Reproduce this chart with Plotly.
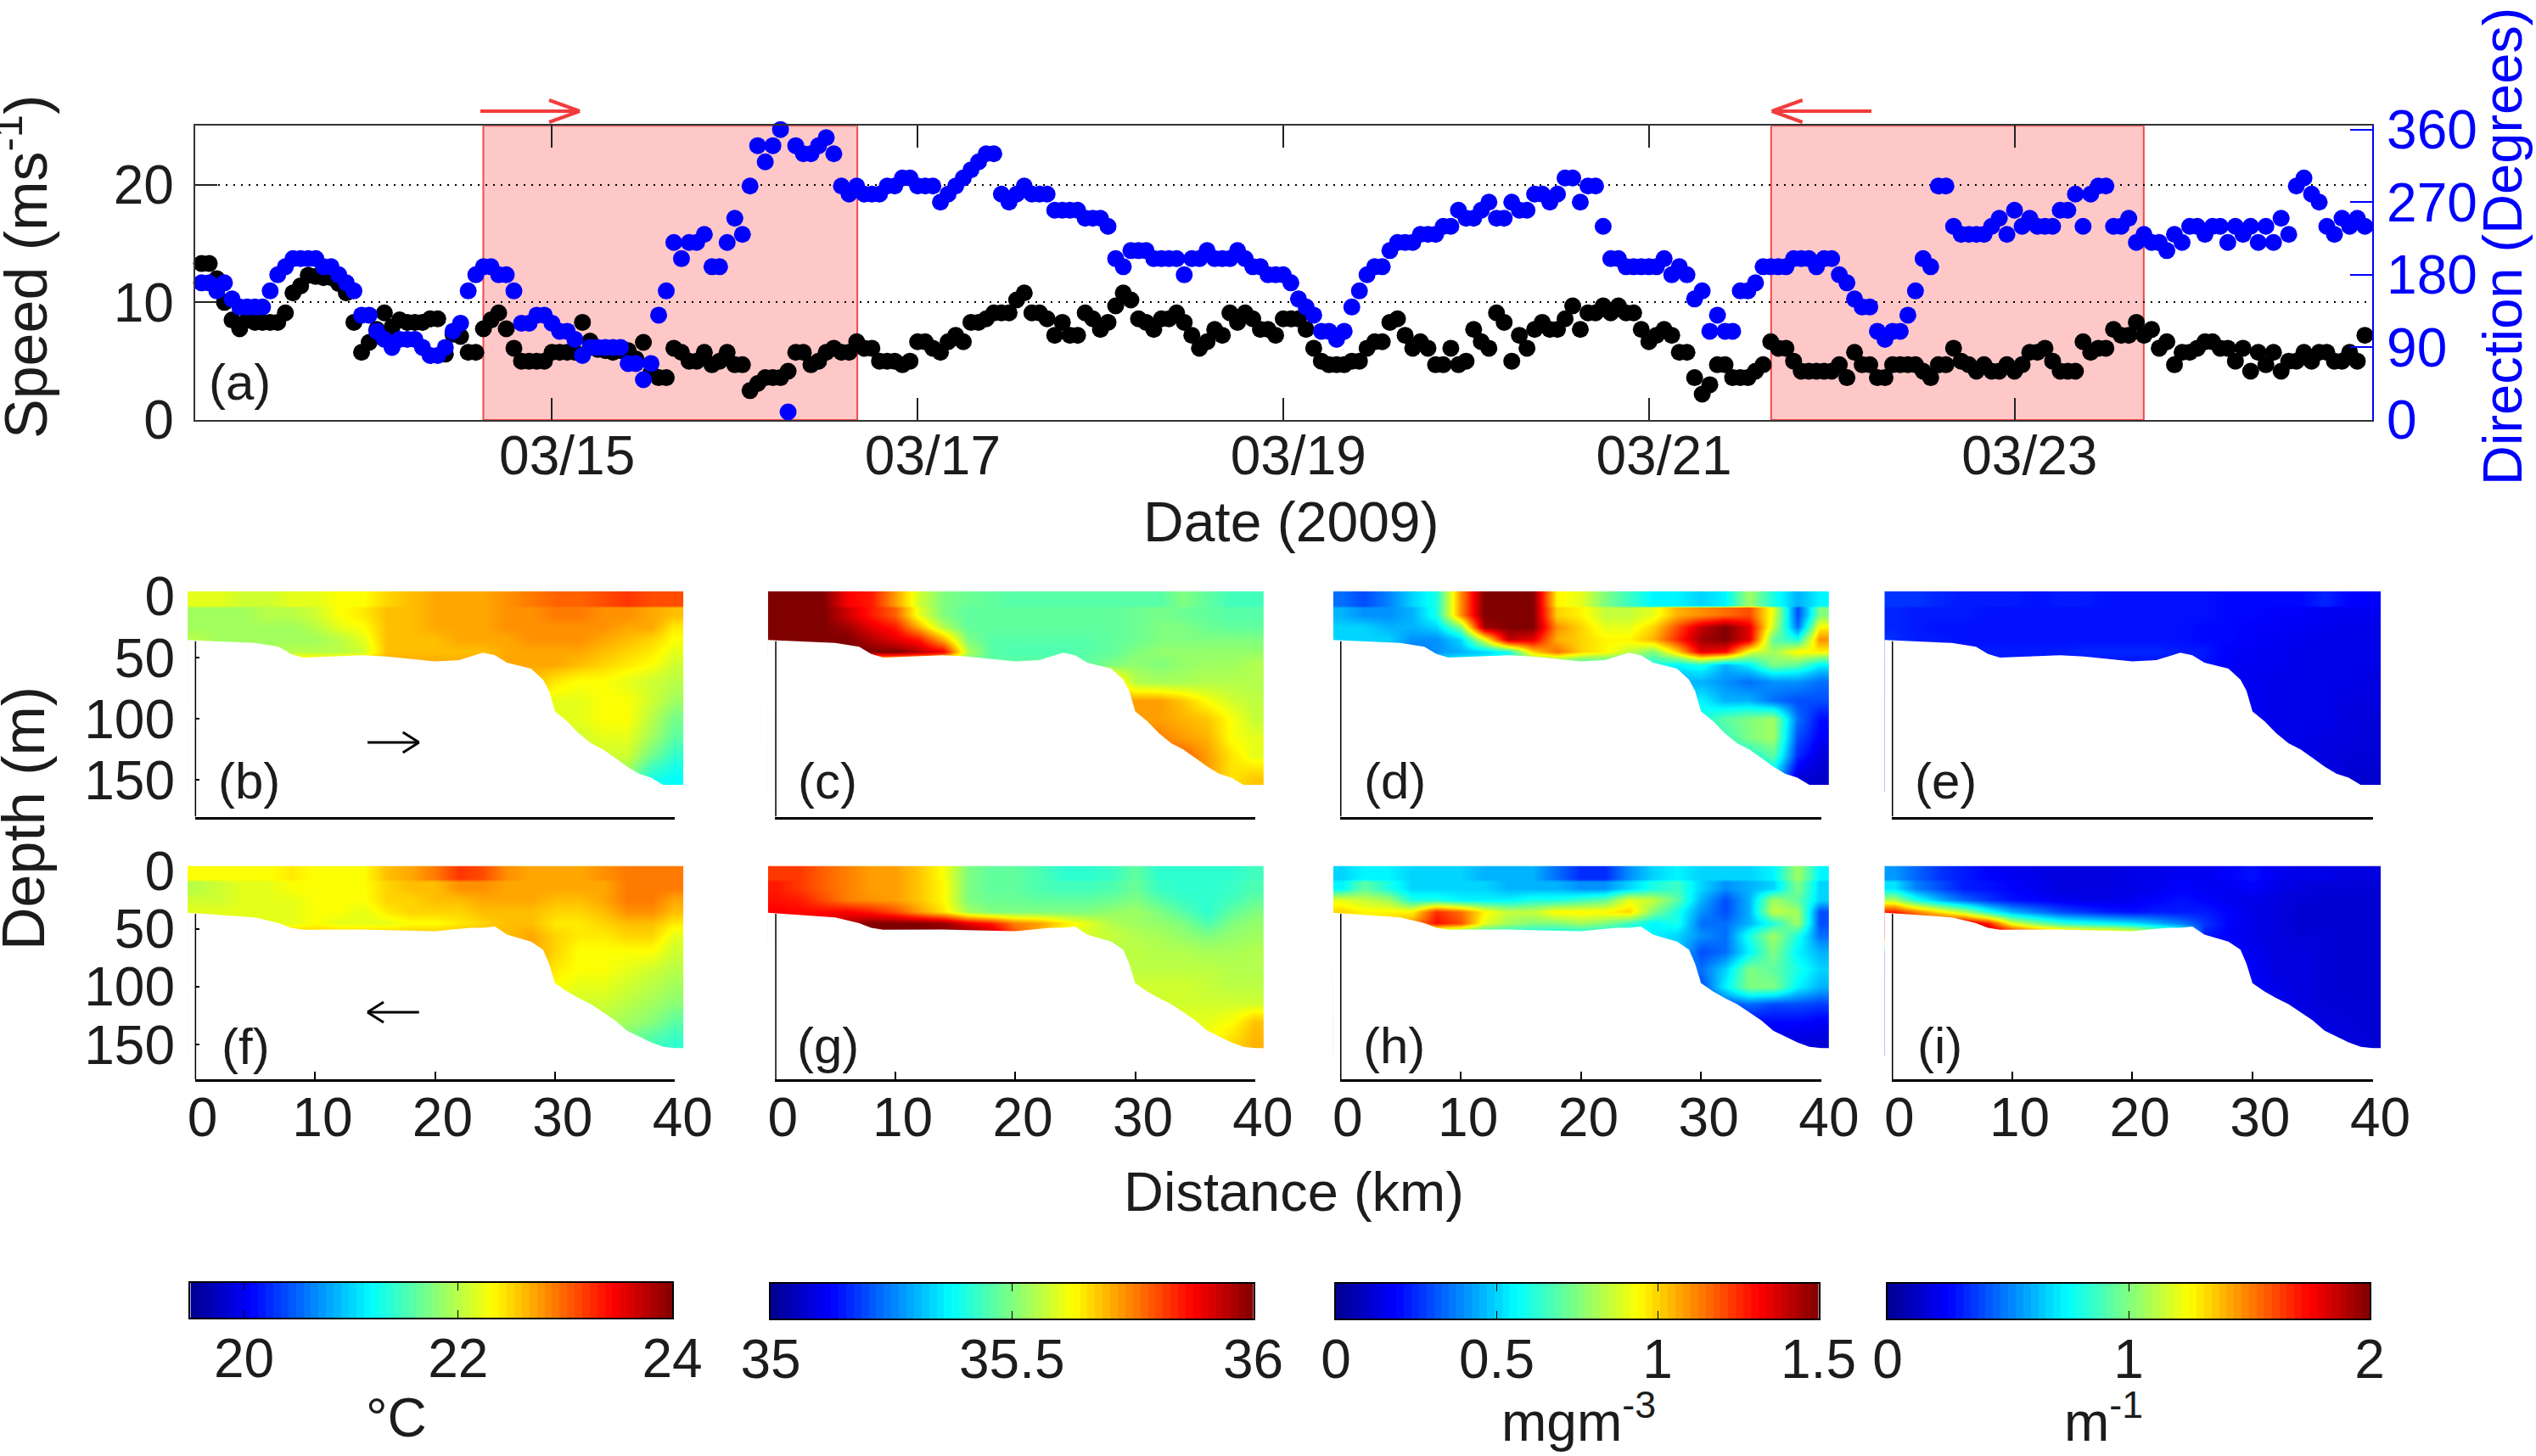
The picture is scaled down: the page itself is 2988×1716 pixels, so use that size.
"""Wind record and along-transect sections, March 2009."""
import pandas as pd
import plotly.graph_objects as go

W, H = 2988, 1716
FONT = "Liberation Sans, Arial, sans-serif"
INK = "#1c1c1c"
NBSP = "\u00a0"

# hourly wind from 03/13 02:00
speed = [13.3, 13.3, 12, 10, 8.5, 7.75, 8.5, 8.3, 8.3, 8.3,
         8.3, 9.1, 10.8, 11.4, 12.3, 12.2, 12.1, 12.1, 11.6, 10.8,
         8.3, 5.75, 6.6, 7.7, 9.1, 7.9, 8.5, 8.3, 8.3, 8.3,
         8.6, 8.6, 5.6, 7.3, 7.1, 5.75, 5.75, 7.75, 8.5, 9.1,
         7.75, 6.1, 5, 5, 5, 5, 5.75, 5.75, 5.75, 5.75,
         8.3, 6.7, 6, 5.9, 5.75, 5.9, 5.9, 5.2, 6.6, 4,
         3.6, 3.6, 6.1, 5.75, 5, 5, 5.75, 4.7, 5, 5.75,
         4.7, 4.7, 2.5, 3.1, 3.6, 3.6, 3.6, 4.15, 5.75, 5.75,
         4.7, 5, 5.75, 6.1, 5.75, 5.75, 6.65, 6.1, 6.1, 5,
         5, 5, 4.7, 5, 6.65, 6.65, 6.1, 5.75, 6.65, 7.2,
         6.65, 8.3, 8.3, 8.6, 9.1, 9.1, 9.1, 10.2, 10.8, 9.1,
         9.1, 8.6, 7.2, 8.3, 7.2, 7.2, 9.1, 8.6, 7.7, 8.3,
         9.7, 10.8, 10.2, 8.6, 8.3, 7.7, 8.6, 8.6, 9.1, 8.3,
         7.2, 6.1, 6.65, 7.7, 7.2, 9.1, 8.3, 9.1, 8.6, 7.7,
         7.7, 7.2, 8.6, 8.6, 8.6, 7.7, 6.1, 5, 4.7, 4.7,
         4.7, 5, 5, 6.1, 6.65, 6.65, 8.3, 8.6, 7.2, 6.1,
         6.65, 6.1, 4.7, 4.7, 6.1, 4.7, 5, 7.7, 6.65, 6.1,
         9.1, 8.3, 5, 7.2, 6.1, 7.7, 8.3, 7.7, 7.7, 8.6,
         9.7, 7.7, 9.1, 9.1, 9.7, 9.1, 9.7, 9.1, 9.1, 7.7,
         6.65, 7.2, 7.7, 7.2, 5.75, 5.75, 3.6, 2.2, 3, 4.7,
         4.7, 3.6, 3.6, 3.6, 4.15, 4.7, 6.65, 6.1, 6.1, 5,
         4.15, 4.15, 4.15, 4.15, 4.15, 4.7, 3.6, 5.75, 4.7, 4.7,
         3.6, 3.6, 4.7, 4.7, 4.7, 4.7, 4.15, 3.6, 4.7, 4.7,
         6.1, 5, 4.7, 4.15, 4.7, 4.15, 4.15, 4.7, 4.15, 4.7,
         5.75, 5.75, 6.1, 5, 4.15, 4.15, 4.15, 6.65, 5.75, 6.1,
         6.1, 7.7, 7.2, 7.2, 8.3, 7.2, 7.7, 6.1, 6.65, 4.7,
         5.75, 5.75, 6.1, 6.65, 6.65, 6.1, 6.1, 5, 6.1, 4.15,
         5.75, 4.7, 5.75, 4.15, 5, 5, 5.75, 5, 5.75, 5.75,
         5, 5, 5.75, 5, 7.2, 7.7]
direction = [170, 170, 160, 170, 150, 140, 140, 140, 140, 160,
             180, 190, 200, 200, 200, 200, 190, 190, 180, 170,
             160, 130, 130, 110, 100, 90, 100, 100, 100, 90,
             80, 80, 90, 110, 120, 160, 180, 190, 190, 180,
             180, 160, 120, 120, 130, 130, 120, 110, 110, 100,
             80, 90, 90, 90, 90, 90, 70, 70, 50, 70,
             130, 160, 220, 200, 220, 220, 230, 190, 190, 220,
             250, 230, 290, 340, 320, 340, 360, 10, 340, 330,
             330, 340, 350, 330, 290, 280, 290, 280, 280, 280,
             290, 290, 300, 300, 290, 290, 290, 270, 280, 290,
             300, 310, 320, 330, 330, 280, 270, 280, 290, 280,
             280, 280, 260, 260, 260, 260, 250, 250, 250, 240,
             200, 190, 210, 210, 210, 200, 200, 200, 200, 180,
             200, 200, 210, 200, 200, 200, 210, 200, 190, 190,
             180, 180, 180, 170, 150, 140, 130, 110, 110, 100,
             110, 140, 160, 180, 190, 190, 210, 220, 220, 220,
             230, 230, 230, 240, 240, 260, 250, 250, 260, 270,
             250, 250, 270, 260, 260, 280, 280, 270, 280, 300,
             300, 270, 290, 290, 240, 200, 200, 190, 190, 190,
             190, 190, 200, 180, 190, 180, 150, 160, 110, 130,
             110, 110, 160, 160, 170, 190, 190, 190, 190, 200,
             200, 200, 190, 200, 200, 180, 170, 150, 140, 140,
             110, 100, 110, 110, 130, 160, 200, 190, 290, 290,
             240, 230, 230, 230, 230, 240, 250, 230, 260, 240,
             250, 240, 240, 240, 260, 260, 280, 240, 280, 290,
             290, 240, 240, 250, 220, 230, 220, 220, 210, 230,
             220, 240, 240, 230, 240, 240, 220, 240, 230, 240,
             220, 240, 220, 250, 230, 290, 300, 280, 270, 240,
             230, 250, 240, 250, 240, 220]

date_ticks = ["2009-03-15", "2009-03-17", "2009-03-19", "2009-03-21", "2009-03-23"]
date_labels = ["03/15", "03/17", "03/19", "03/21", "03/23"]
transit_out = ["2009-03-14 14:59", "2009-03-16 16:05"]
transit_back = ["2009-03-21 16:03", "2009-03-23 16:58"]

# seabed depth along the transect (km, m)
seabed_km = [-0.6, 5, 7, 8, 9, 12, 14, 16, 18, 20, 22, 23, 24, 25, 26, 28, 29, 29.5, 30,
             31, 32, 33, 34, 35, 36, 37, 38, 39, 40, 40.7]
seabed_out = [35.6, 38, 41, 47, 50, 49, 48, 49, 51, 53, 52, 49, 46, 48, 54, 59, 68, 77, 94,
              102, 112, 120, 125, 132, 139, 145, 148, 154, 154, 154]
seabed_back = [36, 40, 45, 49, 50.7, 50.5, 50.5, 51, 51.5, 52, 50, 49, 49, 48, 55, 61, 68, 80, 97,
               104, 110, 115, 122, 129, 138, 143, 148, 152, 153, 153]

# cell edges of the section grids; the first two depth layers are doubled to keep the
# sharp step under the surface band
km_edges = [-0.6, 1, 3, 5, 7, 9, 11, 13, 15, 17, 19, 21, 23, 25, 27, 29, 31, 33, 35, 37, 39, 40.7]
depth_edges = [-5, 6, 8, 10, 20, 30, 40, 50, 62, 78, 92, 108, 122, 138, 160]
distance_ticks = [0, 10, 20, 30, 40]

# sections: upper rows (surface, 15, 25, 35, 45 m) at km 0, 2 .. 40
temp_out_upper = [
    [22.2, 22.2, 22.1, 22.1, 22.2, 22.2, 22.3, 22.3, 22.5, 22.6, 22.7, 22.7, 22.7, 22.8, 22.9, 23.0, 23.0, 23.1, 23.2, 23.1, 23.1],
    [21.9, 21.9, 21.9, 22.0, 22.0, 22.1, 22.3, 22.4, 22.6, 22.6, 22.7, 22.7, 22.7, 22.8, 22.8, 22.9, 22.9, 22.8, 22.8, 22.7, 22.6],
    [21.9, 21.9, 21.9, 21.9, 21.9, 22.0, 22.2, 22.3, 22.6, 22.6, 22.7, 22.7, 22.7, 22.8, 22.8, 22.8, 22.8, 22.8, 22.7, 22.7, 22.4],
    [22.0, 21.9, 21.9, 21.9, 21.9, 21.9, 22.0, 22.2, 22.6, 22.6, 22.6, 22.7, 22.7, 22.7, 22.8, 22.8, 22.8, 22.7, 22.6, 22.5, 22.3],
    [21.9, 21.9, 21.9, 21.9, 22.0, 22.0, 22.0, 22.1, 22.6, 22.6, 22.6, 22.6, 22.6, 22.7, 22.7, 22.7, 22.7, 22.6, 22.5, 22.4, 22.2],
]
# deep rows (55, 70, 85, 100, 115, 130, 150 m) at km 26, 28 .. 40
temp_out_deep = [
    [22.7, 22.7, 22.7, 22.6, 22.5, 22.4, 22.3, 22.1],
    [22.6, 22.6, 22.4, 22.3, 22.3, 22.2, 22.1, 22.0],
    [22.4, 22.4, 22.2, 22.2, 22.3, 22.3, 22.1, 21.9],
    [22.2, 22.2, 22.2, 22.2, 22.3, 22.3, 22.0, 21.7],
    [22.1, 22.1, 22.1, 22.1, 22.2, 22.2, 21.9, 21.6],
    [22.1, 22.1, 22.1, 22.1, 22.1, 22.1, 21.7, 21.4],
    [21.8, 21.8, 21.8, 21.8, 21.8, 21.8, 21.3, 21.2],
]
temp_back_upper = [
    [22.3, 22.3, 22.3, 22.3, 22.4, 22.3, 22.3, 22.3, 22.6, 22.7, 22.9, 23.2, 23.1, 22.8, 22.7, 22.7, 22.7, 22.8, 22.9, 22.9, 22.9],
    [22.0, 22.1, 22.2, 22.2, 22.3, 22.3, 22.3, 22.3, 22.5, 22.6, 22.6, 22.8, 22.8, 22.7, 22.7, 22.7, 22.7, 22.7, 22.9, 22.9, 22.9],
    [22.1, 22.1, 22.2, 22.2, 22.2, 22.3, 22.3, 22.3, 22.5, 22.5, 22.6, 22.6, 22.7, 22.7, 22.7, 22.6, 22.6, 22.7, 22.9, 22.9, 22.7],
    [22.2, 22.2, 22.2, 22.2, 22.2, 22.3, 22.3, 22.2, 22.4, 22.5, 22.5, 22.5, 22.6, 22.6, 22.6, 22.5, 22.5, 22.6, 22.8, 22.8, 22.6],
    [22.2, 22.2, 22.2, 22.2, 22.2, 22.3, 22.2, 22.2, 22.2, 22.3, 22.3, 22.4, 22.5, 22.6, 22.6, 22.4, 22.4, 22.5, 22.6, 22.6, 22.4],
]
temp_back_deep = [
    [22.6, 22.7, 22.5, 22.4, 22.4, 22.5, 22.5, 22.2],
    [22.6, 22.7, 22.5, 22.3, 22.3, 22.3, 22.3, 22.1],
    [22.6, 22.6, 22.4, 22.3, 22.3, 22.2, 22.1, 22.0],
    [22.3, 22.3, 22.3, 22.2, 22.2, 22.1, 22.0, 21.9],
    [22.1, 22.1, 22.1, 22.1, 22.1, 22.0, 21.9, 21.8],
    [22.0, 22.0, 22.0, 22.0, 22.0, 21.9, 21.8, 21.6],
    [21.7, 21.7, 21.7, 21.7, 21.7, 21.7, 21.5, 21.4],
]
salt_out_upper = [
    [36, 36, 36, 35.88, 35.85, 35.72, 35.58, 35.5, 35.48, 35.47, 35.46, 35.46, 35.46, 35.46, 35.46, 35.46, 35.46, 35.5, 35.47, 35.44, 35.44],
    [36, 36, 36, 35.92, 35.85, 35.78, 35.6, 35.5, 35.47, 35.47, 35.47, 35.47, 35.47, 35.47, 35.47, 35.48, 35.49, 35.48, 35.47, 35.46, 35.46],
    [36, 36, 36, 35.97, 35.9, 35.85, 35.7, 35.55, 35.47, 35.47, 35.47, 35.47, 35.47, 35.47, 35.47, 35.48, 35.5, 35.5, 35.48, 35.47, 35.47],
    [36, 36, 36, 36, 35.95, 35.9, 35.85, 35.7, 35.5, 35.46, 35.46, 35.46, 35.46, 35.46, 35.47, 35.48, 35.5, 35.5, 35.5, 35.5, 35.5],
    [36, 36, 36, 36, 36, 36, 35.95, 35.88, 35.55, 35.46, 35.45, 35.45, 35.45, 35.46, 35.47, 35.5, 35.52, 35.52, 35.52, 35.52, 35.52],
]
salt_out_deep = [
    [35.47, 35.5, 35.52, 35.5, 35.52, 35.53, 35.53, 35.55],
    [35.6, 35.68, 35.55, 35.54, 35.54, 35.55, 35.55, 35.55],
    [35.7, 35.7, 35.72, 35.72, 35.68, 35.62, 35.58, 35.56],
    [35.72, 35.72, 35.72, 35.72, 35.7, 35.68, 35.62, 35.57],
    [35.72, 35.72, 35.72, 35.75, 35.72, 35.7, 35.62, 35.6],
    [35.78, 35.78, 35.78, 35.78, 35.78, 35.72, 35.65, 35.6],
    [35.75, 35.75, 35.75, 35.75, 35.75, 35.72, 35.65, 35.68],
]
salt_back_upper = [
    [35.82, 35.82, 35.78, 35.75, 35.72, 35.72, 35.68, 35.62, 35.5, 35.47, 35.47, 35.45, 35.42, 35.42, 35.43, 35.47, 35.42, 35.42, 35.42, 35.42, 35.44],
    [35.85, 35.82, 35.78, 35.75, 35.72, 35.72, 35.68, 35.63, 35.5, 35.47, 35.47, 35.45, 35.44, 35.44, 35.45, 35.48, 35.43, 35.42, 35.42, 35.43, 35.45],
    [35.86, 35.85, 35.8, 35.75, 35.73, 35.72, 35.68, 35.63, 35.5, 35.48, 35.48, 35.47, 35.47, 35.47, 35.48, 35.5, 35.46, 35.43, 35.42, 35.44, 35.47],
    [35.88, 35.87, 35.87, 35.88, 35.85, 35.8, 35.72, 35.65, 35.54, 35.5, 35.5, 35.5, 35.5, 35.5, 35.52, 35.53, 35.5, 35.46, 35.42, 35.47, 35.5],
    [35.88, 35.88, 35.9, 35.95, 36, 36, 36, 35.98, 35.9, 35.85, 35.75, 35.72, 35.65, 35.6, 35.55, 35.53, 35.52, 35.5, 35.45, 35.5, 35.52],
]
salt_back_deep = [
    [35.58, 35.57, 35.55, 35.54, 35.52, 35.5, 35.52, 35.53],
    [35.56, 35.55, 35.56, 35.55, 35.55, 35.54, 35.54, 35.55],
    [35.56, 35.56, 35.56, 35.56, 35.56, 35.56, 35.55, 35.55],
    [35.58, 35.58, 35.58, 35.58, 35.58, 35.57, 35.56, 35.56],
    [35.58, 35.58, 35.58, 35.58, 35.58, 35.58, 35.58, 35.58],
    [35.6, 35.6, 35.6, 35.6, 35.6, 35.6, 35.62, 35.68],
    [35.62, 35.62, 35.62, 35.62, 35.62, 35.62, 35.66, 35.7],
]
# values right on the shelf floor, km 0 .. 24
salt_back_floor = [35.9, 35.9, 36, 36, 36, 36, 36, 36, 36, 35.95, 35.8, 35.7, 35.6]
chl_out_upper = [
    [0.35, 0.3, 0.38, 0.5, 0.6, 1.1, 1.5, 1.5, 1.5, 0.95, 0.9, 0.75, 0.65, 0.55, 0.55, 0.5, 0.55, 0.8, 0.6, 0.45, 0.55],
    [0.45, 0.4, 0.4, 0.45, 0.6, 1.1, 1.5, 1.5, 1.5, 1.0, 0.95, 0.85, 0.85, 0.9, 1.05, 1.1, 1.15, 1.2, 0.9, 0.3, 0.75],
    [0.5, 0.5, 0.45, 0.45, 0.5, 0.75, 1.45, 1.5, 1.5, 1.1, 1.0, 0.9, 0.9, 1.0, 1.2, 1.4, 1.5, 1.35, 0.85, 0.35, 0.95],
    [0.5, 0.5, 0.5, 0.4, 0.4, 0.5, 0.9, 1.4, 1.35, 1.05, 1.0, 0.95, 0.95, 1.05, 1.25, 1.45, 1.5, 1.35, 0.7, 0.6, 1.1],
    [0.5, 0.5, 0.4, 0.35, 0.4, 0.45, 0.5, 0.6, 1.0, 1.15, 1.0, 0.95, 0.85, 0.75, 1.0, 1.35, 1.3, 0.9, 0.8, 0.95, 0.95],
]
chl_out_deep = [
    [0.6, 0.55, 0.6, 0.45, 0.55, 0.75, 0.7, 0.55],
    [0.6, 0.45, 0.45, 0.4, 0.35, 0.4, 0.4, 0.35],
    [0.5, 0.5, 0.55, 0.45, 0.45, 0.35, 0.3, 0.3],
    [0.6, 0.6, 0.6, 0.7, 0.75, 0.8, 0.35, 0.2],
    [0.65, 0.65, 0.65, 0.65, 0.75, 0.8, 0.3, 0.18],
    [0.6, 0.6, 0.6, 0.6, 0.6, 0.7, 0.25, 0.13],
    [0.5, 0.5, 0.5, 0.5, 0.5, 0.5, 0.12, 0.1],
]
chl_back_upper = [
    [0.5, 0.55, 0.55, 0.5, 0.5, 0.5, 0.45, 0.45, 0.45, 0.35, 0.25, 0.25, 0.4, 0.5, 0.55, 0.5, 0.5, 0.5, 0.55, 0.8, 0.55],
    [0.55, 0.7, 0.6, 0.5, 0.5, 0.5, 0.5, 0.45, 0.45, 0.45, 0.4, 0.4, 0.5, 0.6, 0.65, 0.5, 0.4, 0.45, 0.5, 0.75, 0.5],
    [0.9, 0.85, 0.8, 0.6, 0.6, 0.55, 0.55, 0.55, 0.6, 0.6, 0.65, 0.7, 0.9, 0.85, 0.7, 0.45, 0.3, 0.45, 0.8, 0.7, 0.5],
    [1.0, 0.95, 0.95, 0.95, 1.25, 1.15, 0.95, 0.85, 0.85, 0.95, 0.95, 0.95, 1.0, 0.75, 0.6, 0.4, 0.3, 0.45, 0.85, 0.8, 0.3],
    [0.85, 0.95, 1.0, 1.1, 1.3, 1.2, 0.9, 0.8, 0.75, 0.75, 0.8, 0.75, 0.65, 0.55, 0.6, 0.35, 0.35, 0.45, 0.6, 0.8, 0.3],
]
chl_back_deep = [
    [0.55, 0.5, 0.4, 0.35, 0.6, 0.8, 0.6, 0.35],
    [0.5, 0.5, 0.3, 0.35, 0.55, 0.75, 0.55, 0.45],
    [0.5, 0.45, 0.35, 0.5, 0.75, 0.7, 0.6, 0.5],
    [0.3, 0.3, 0.3, 0.55, 0.75, 0.75, 0.55, 0.45],
    [0.3, 0.3, 0.3, 0.3, 0.35, 0.3, 0.3, 0.28],
    [0.2, 0.2, 0.2, 0.2, 0.2, 0.2, 0.2, 0.18],
    [0.13, 0.13, 0.13, 0.13, 0.13, 0.13, 0.13, 0.12],
]
beam_out_upper = [
    [0.35, 0.35, 0.32, 0.3, 0.3, 0.3, 0.28, 0.3, 0.3, 0.28, 0.28, 0.28, 0.28, 0.28, 0.26, 0.26, 0.26, 0.26, 0.32, 0.25, 0.25],
    [0.32, 0.3, 0.3, 0.3, 0.28, 0.28, 0.28, 0.28, 0.28, 0.28, 0.28, 0.28, 0.28, 0.28, 0.26, 0.26, 0.24, 0.24, 0.22, 0.22, 0.22],
    [0.32, 0.3, 0.28, 0.28, 0.28, 0.28, 0.28, 0.28, 0.28, 0.28, 0.28, 0.28, 0.28, 0.26, 0.26, 0.24, 0.24, 0.22, 0.22, 0.2, 0.2],
    [0.34, 0.3, 0.3, 0.28, 0.28, 0.28, 0.28, 0.28, 0.28, 0.28, 0.28, 0.28, 0.28, 0.26, 0.26, 0.24, 0.22, 0.22, 0.2, 0.2, 0.2],
    [0.34, 0.32, 0.3, 0.3, 0.3, 0.3, 0.3, 0.3, 0.32, 0.32, 0.32, 0.32, 0.3, 0.3, 0.24, 0.22, 0.22, 0.2, 0.2, 0.2, 0.2],
]
beam_out_deep = [
    [0.28, 0.24, 0.22, 0.22, 0.2, 0.2, 0.2, 0.2],
    [0.28, 0.22, 0.22, 0.2, 0.2, 0.2, 0.2, 0.18],
    [0.24, 0.22, 0.22, 0.2, 0.2, 0.2, 0.18, 0.18],
    [0.24, 0.24, 0.24, 0.2, 0.2, 0.2, 0.18, 0.16],
    [0.24, 0.24, 0.24, 0.2, 0.2, 0.18, 0.18, 0.16],
    [0.24, 0.24, 0.24, 0.24, 0.2, 0.18, 0.16, 0.16],
    [0.24, 0.24, 0.24, 0.24, 0.24, 0.2, 0.16, 0.14],
]
beam_back_upper = [
    [0.55, 0.45, 0.35, 0.3, 0.25, 0.22, 0.2, 0.18, 0.18, 0.18, 0.2, 0.2, 0.22, 0.22, 0.25, 0.28, 0.22, 0.2, 0.2, 0.18, 0.18],
    [0.7, 0.5, 0.4, 0.3, 0.28, 0.25, 0.22, 0.18, 0.18, 0.18, 0.2, 0.22, 0.25, 0.22, 0.22, 0.25, 0.2, 0.18, 0.16, 0.16, 0.16],
    [1.1, 0.8, 0.6, 0.45, 0.35, 0.28, 0.25, 0.22, 0.2, 0.2, 0.22, 0.25, 0.28, 0.25, 0.22, 0.2, 0.18, 0.16, 0.15, 0.15, 0.15],
    [1.7, 1.5, 1.3, 1.1, 0.8, 0.6, 0.5, 0.4, 0.35, 0.3, 0.28, 0.3, 0.3, 0.3, 0.25, 0.2, 0.18, 0.15, 0.15, 0.15, 0.15],
    [1.8, 1.8, 1.8, 1.9, 1.7, 1.2, 1.0, 0.85, 0.8, 0.75, 0.7, 0.6, 0.5, 0.35, 0.25, 0.2, 0.18, 0.15, 0.15, 0.15, 0.15],
]
beam_back_deep = [
    [0.3, 0.24, 0.2, 0.18, 0.16, 0.16, 0.15, 0.15],
    [0.3, 0.28, 0.22, 0.18, 0.18, 0.16, 0.15, 0.15],
    [0.28, 0.28, 0.24, 0.18, 0.18, 0.16, 0.15, 0.15],
    [0.24, 0.24, 0.24, 0.2, 0.18, 0.16, 0.15, 0.15],
    [0.24, 0.24, 0.24, 0.22, 0.18, 0.16, 0.16, 0.15],
    [0.24, 0.24, 0.24, 0.24, 0.2, 0.18, 0.16, 0.15],
    [0.24, 0.24, 0.24, 0.24, 0.24, 0.2, 0.18, 0.16],
]
beam_back_floor = [2, 2, 2, 2, 2, 1.9, 1.7, 1.6, 1.5, 1.5, 1.4, 1.2, 1.0]

panel_letters = ["(b)", "(c)", "(d)", "(e)", "(f)", "(g)", "(h)", "(i)"]

# colour bar ranges and ticks
bar_ranges = [(19.5, 24), (35, 36), (0, 1.5), (0, 2)]
bar_ticks = [[20, 22, 24], [35, 35.5, 36], [0, 0.5, 1, 1.5], [0, 1, 2]]
bar_units = ["°C", "", "mgm<sup>-3</sup>", "m<sup>-1</sup>"]
BAR_STEPS = 64

JET = [[0, "#00008f"], [0.125, "#0000ff"], [0.375, "#00ffff"], [0.625, "#ffff00"],
       [0.875, "#ff0000"], [1, "#800000"]]


def px(x):
    return x / W


def py(y):
    return 1 - y / H


def full_grid(upper, deep, floor=None):
    """Double the top two layers and pad the deep rows over the hidden shelf columns."""
    rows = [upper[0], upper[0], upper[1], upper[1]] + upper[2:]
    deep_rows = [[r[0]] * 13 + r for r in deep]
    if floor:
        deep_rows[0] = floor + deep[0]
    return rows + deep_rows


def arrow(fig, tip, tail, y, color, width, barb_x, barb_y):
    """Open arrow built from three line shapes, positions in image pixels."""
    sign = 1 if tail > tip else -1
    for end_x, end_y in ((tail, y), (tip + sign * barb_x, y - barb_y), (tip + sign * barb_x, y + barb_y)):
        fig.add_shape(type="line", xref="paper", yref="paper", x0=px(tip), y0=py(y),
                      x1=px(end_x), y1=py(end_y), line=dict(color=color, width=width))


def label(fig, x, y, text, size=64, color=INK, angle=0):
    fig.add_annotation(x=px(x), y=py(y), xref="paper", yref="paper", text=text, showarrow=False,
                       font=dict(family=FONT, size=size, color=color), textangle=angle,
                       xanchor="center", yanchor="middle")


fig = go.Figure()

# ---- panel (a): wind speed and direction
hours = pd.date_range("2009-03-13 02:00", periods=len(speed), freq="h")
fig.add_trace(go.Scatter(x=hours, y=speed, mode="markers", xaxis="x", yaxis="y", cliponaxis=False,
                         marker=dict(color="black", size=20), showlegend=False))
fig.add_trace(go.Scatter(x=hours, y=direction, mode="markers", xaxis="x", yaxis="y2", cliponaxis=False,
                         marker=dict(color="#0000ff", size=20), showlegend=False))
for start, end in (transit_out, transit_back):
    fig.add_shape(type="rect", xref="x", yref="y", x0=start, x1=end, y0=0, y1=25, layer="below",
                  fillcolor="#ffc8c8", line=dict(color="#f04a4a", width=2))

top_dom_x = [px(229.7), px(2795.3)]
top_dom_y = [py(495), py(148.3)]
layout = dict(
    # the leading spaces nudge the date labels right of their ticks, as in the source figure
    xaxis=dict(domain=top_dom_x, type="date", range=["2009-03-13 01:07:41", "2009-03-24 22:59:30"],
               tickvals=date_ticks, ticktext=[NBSP * 2 + d for d in date_labels], ticks="inside",
               ticklen=26, tickwidth=2, tickcolor="#222222", showline=True, linecolor="#333333",
               linewidth=2, mirror="ticks", showgrid=False, anchor="y", ticklabelstandoff=-15,
               tickfont=dict(family=FONT, size=64, color=INK)),
    yaxis=dict(domain=top_dom_y, range=[0, 25], tickvals=[0, 10, 20], ticks="inside", ticklen=26,
               tickwidth=2, tickcolor="#222222", showline=True, linecolor="#333333", linewidth=2,
               showgrid=True, gridcolor="black", griddash="2px,7px", gridwidth=2, zeroline=False,
               anchor="x", ticklabelstandoff=10, tickfont=dict(family=FONT, size=64, color=INK)),
    yaxis2=dict(domain=top_dom_y, range=[0, 364.6], tickvals=[0, 90, 180, 270, 360], ticks="inside",
                ticklen=26, tickwidth=2, tickcolor="#0000ff", showline=True, linecolor="#0000ff",
                linewidth=2, showgrid=False, zeroline=False, overlaying="y", side="right", anchor="x",
                ticklabelstandoff=2, tickfont=dict(family=FONT, size=64, color="#0000ff")),
)

# ---- sections: heatmap subplot plus a frame subplot drawn above it
# image-pixel columns: heat left, axis left, axis right, heat right
columns = [(221, 229.6, 795.4, 805.6), (904.8, 913.3, 1479, 1489),
           (1570.8, 1579, 2146, 2155), (2220, 2229, 2795.6, 2805)]
# image-pixel rows: heat top, axis bottom, depth at heat top
section_rows = [(697, 962.5, -4.2), (1020.5, 1272, -4.5)]
grids = [
    full_grid(temp_out_upper, temp_out_deep), full_grid(salt_out_upper, salt_out_deep),
    full_grid(chl_out_upper, chl_out_deep), full_grid(beam_out_upper, beam_out_deep),
    full_grid(temp_back_upper, temp_back_deep), full_grid(salt_back_upper, salt_back_deep, salt_back_floor),
    full_grid(chl_back_upper, chl_back_deep), full_grid(beam_back_upper, beam_back_deep, beam_back_floor),
]
letter_pos = [(293.7, 920), (975, 921), (1644, 920), (2292, 920),
              (289.4, 1233), (975, 1232), (1642.6, 1232), (2285, 1232)]

for n in range(8):
    row, col = divmod(n, 4)
    h_left, a_left, a_right, h_right = columns[col]
    top, bottom, top_depth = section_rows[row]
    seabed = seabed_out if row == 0 else seabed_back
    caxis = "coloraxis" if col == 0 else f"coloraxis{col + 1}"
    hx, hy = 3 + n, 3 + n  # heat axes: x3..x10 / y3..y10
    fx, fy = 11 + n, 11 + n  # frame axes: x11..x18 / y11..y18
    km_per_px = 40 / (a_right - a_left)
    x_range = [(h_left - a_left) * km_per_px, 40 + (h_right - a_right) * km_per_px]
    y_dom = [py(bottom), py(top)]

    fig.add_trace(go.Heatmap(x=km_edges, y=depth_edges, z=grids[n], coloraxis=caxis, zsmooth="best",
                             xaxis=f"x{hx}", yaxis=f"y{hy}", hoverinfo="skip"))
    fig.add_trace(go.Scatter(x=seabed_km + [seabed_km[-1], seabed_km[0]], y=seabed + [180, 180],
                             mode="lines", fill="toself", fillcolor="white", line=dict(color="white", width=0),
                             xaxis=f"x{hx}", yaxis=f"y{hy}", showlegend=False, hoverinfo="skip"))
    fig.add_trace(go.Scatter(x=[0, 0], y=[seabed[0] + 1, 180], mode="lines", cliponaxis=False,
                             line=dict(color="black", width=3), xaxis=f"x{fx}", yaxis=f"y{fy}",
                             showlegend=False, hoverinfo="skip"))

    layout[f"xaxis{hx}"] = dict(domain=[px(h_left), px(h_right)], range=x_range, visible=False, anchor=f"y{hy}")
    layout[f"yaxis{hy}"] = dict(domain=y_dom, range=[180, top_depth], anchor=f"x{hx}", showgrid=False,
                                zeroline=False, ticks="", tickvals=[0, 50, 100, 150], showticklabels=col == 0,
                                ticklabelstandoff=14, tickfont=dict(family=FONT, size=64, color=INK))
    layout[f"xaxis{fx}"] = dict(domain=[px(a_left), px(a_right)], range=[0, 40], anchor=f"y{fy}",
                                tickvals=distance_ticks, ticktext=[NBSP + str(d) for d in distance_ticks],
                                ticks="inside" if row == 1 else "", ticklen=9,
                                tickwidth=2, tickcolor="black", showline=True, linecolor="black", linewidth=3,
                                showgrid=False, zeroline=False, showticklabels=row == 1, ticklabelstandoff=-13,
                                tickfont=dict(family=FONT, size=64, color=INK))
    layout[f"yaxis{fy}"] = dict(domain=y_dom, range=[180, top_depth], anchor=f"x{fx}", tickvals=[50, 100, 150],
                                ticks="inside" if col == 0 else "", ticklen=5, tickwidth=2, tickcolor="black",
                                showticklabels=False, showgrid=False, zeroline=False)
    label(fig, letter_pos[n][0], letter_pos[n][1], panel_letters[n], size=60)

# ---- colour bars: a one-row heatmap on its own axes, which also give ticks and labels
bar_boxes = [(224.4, 792, 1512, 1553), (908, 1476.6, 1513, 1554),
             (1574, 2142.5, 1513, 1554), (2224, 2792, 1513, 1554)]
bar_unit_x = [467, 0, 1860, 2478]
for i, (low, high) in enumerate(bar_ranges):
    left, right, top, bottom = bar_boxes[i]
    suffix = "" if i == 0 else str(i + 1)
    layout[f"coloraxis{suffix}"] = dict(cmin=low, cmax=high, colorscale=JET, showscale=False)
    ax_id = 19 + i
    step = (high - low) / BAR_STEPS
    ramp = [low + step * (k + 0.5) for k in range(BAR_STEPS)]
    fig.add_trace(go.Heatmap(x=ramp, y=[0, 1], z=[ramp, ramp], coloraxis=f"coloraxis{suffix}",
                             xaxis=f"x{ax_id}", yaxis=f"y{ax_id}", hoverinfo="skip"))
    layout[f"xaxis{ax_id}"] = dict(domain=[px(left), px(right)], range=[low, high], anchor=f"y{ax_id}",
                                   tickvals=bar_ticks[i], ticks="inside", ticklen=9, tickwidth=1,
                                   tickcolor="black", showline=True, linecolor="black", linewidth=2,
                                   mirror="ticks", showgrid=False, zeroline=False, ticklabelstandoff=-9,
                                   tickfont=dict(family=FONT, size=64, color=INK))
    layout[f"yaxis{ax_id}"] = dict(domain=[py(bottom), py(top)], range=[0, 1], anchor=f"x{ax_id}",
                                   showticklabels=False, ticks="", showline=True, linecolor="black",
                                   linewidth=2, mirror=True, showgrid=False, zeroline=False)
    if bar_units[i]:
        label(fig, bar_unit_x[i], 1671, bar_units[i], size=64)

# ---- texts and arrows
label(fig, 26, 315, "Speed (ms<sup>-1</sup>)", size=70, angle=-90)
label(fig, 2948, 290, "Direction (Degrees)", size=65, color="#0000ff", angle=-90)
label(fig, 1521, 615, "Date (2009)", size=66)
label(fig, 1524, 1404, "Distance (km)", size=65)
label(fig, 28, 965, "Depth (m)", size=70, angle=-90)
label(fig, 282, 451, "(a)", size=60)

arrow(fig, 683, 566, 131, "#f23c3c", 4, 36, 13)
arrow(fig, 2087.7, 2205, 131, "#f23c3c", 4, 36, 13)
arrow(fig, 493.7, 433, 875, "black", 3, 19, 12)
arrow(fig, 433, 493.7, 1193, "black", 3, 19, 12)

fig.update_layout(template="none", width=W, height=H, margin=dict(l=0, r=0, t=0, b=0), autosize=False,
                  paper_bgcolor="white", plot_bgcolor="rgba(0,0,0,0)", showlegend=False,
                  font=dict(family=FONT, color=INK), **layout)

fig.write_html("out.html", config=dict(displayModeBar=False),
               post_script="document.body.style.margin='0';")
